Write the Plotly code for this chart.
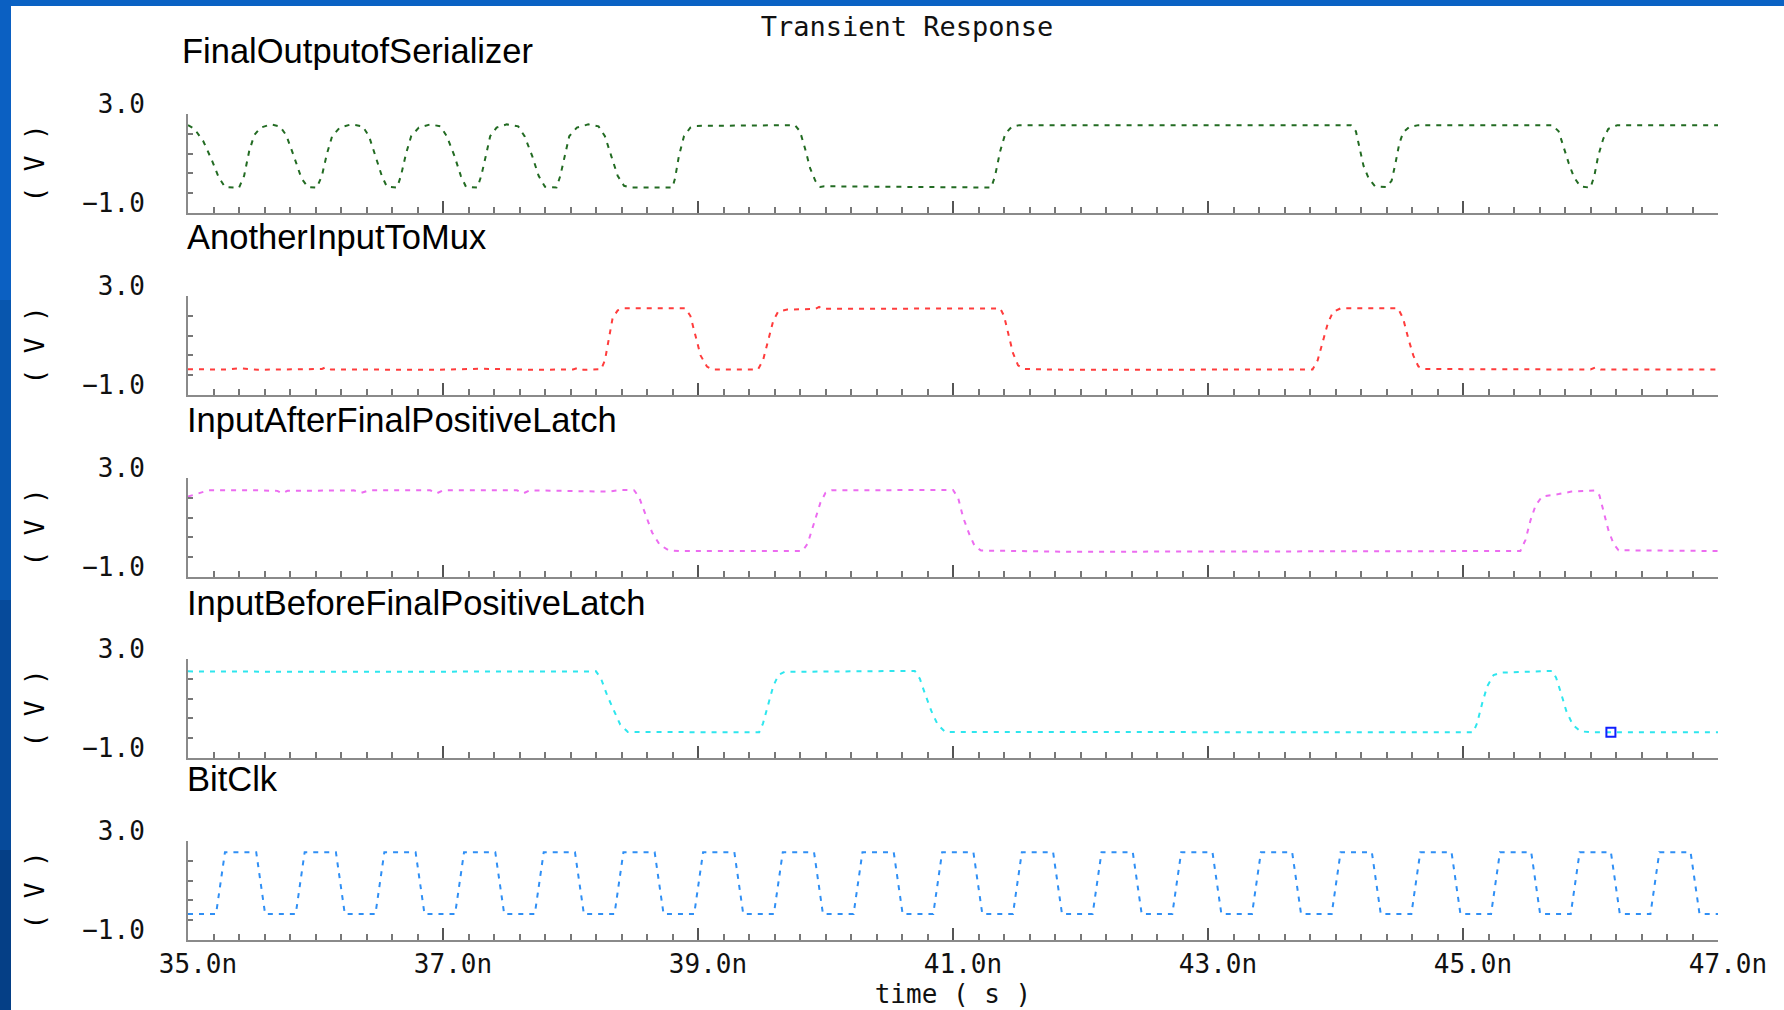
import plotly.graph_objects as go

# ---------------- data (time in ns, voltage in V) ----------------
x_tick_vals = [35, 37, 39, 41, 43, 45, 47]
x_tick_text = ["35.0n", "37.0n", "39.0n", "41.0n", "43.0n", "45.0n", "47.0n"]
y_tick_vals = [-1.0, 3.0]
y_tick_text = ["\u22121.0", "3.0"]
y_minor_vals = [-0.2, 0.6, 1.4, 2.2]

panel_names = ["FinalOutputofSerializer", "AnotherInputToMux",
               "InputAfterFinalPositiveLatch", "InputBeforeFinalPositiveLatch", "BitClk"]
panel_colors = ["#226b22", "#ff3c3c", "#ec6cf0", "#2ee6ee", "#2f8ff5"]

out_t = [35.00, 35.05, 35.12, 35.19, 35.24, 35.29, 35.40, 35.44, 35.48, 35.52, 35.57, 35.65, 35.72,
         35.77, 35.83, 35.89, 35.94, 36.01, 36.05, 36.09, 36.13, 36.19, 36.28, 36.37, 36.42, 36.47,
         36.52, 36.56, 36.64, 36.67, 36.71, 36.75, 36.81, 36.90, 36.98, 37.03, 37.09, 37.14, 37.18,
         37.27, 37.30, 37.34, 37.37, 37.42, 37.50, 37.59, 37.64, 37.70, 37.75, 37.80, 37.89, 37.92,
         37.96, 37.99, 38.05, 38.14, 38.22, 38.27, 38.32, 38.37, 38.42, 38.47, 38.80, 38.82, 38.85,
         38.89, 38.94, 38.99, 39.76, 39.80, 39.84, 39.88, 39.92, 39.96, 39.99, 41.30, 41.33, 41.37,
         41.41, 41.46, 41.52, 44.12, 44.16, 44.19, 44.22, 44.26, 44.31, 44.40, 44.44, 44.47, 44.50,
         44.53, 44.58, 44.65, 45.70, 45.75, 45.79, 45.83, 45.87, 45.92, 46.00, 46.03, 46.06, 46.10,
         46.14, 46.21, 47.00]
out_v = [2.55, 2.40, 1.90, 1.10, 0.45, 0.05, 0.02, 0.50, 1.50, 2.15, 2.45, 2.58, 2.50,
         2.15, 1.30, 0.40, 0.05, 0.02, 0.50, 1.40, 2.10, 2.45, 2.58, 2.50, 2.10, 1.30,
         0.50, 0.06, 0.03, 0.50, 1.40, 2.10, 2.45, 2.58, 2.50, 2.10, 1.30, 0.50, 0.06,
         0.03, 0.50, 1.40, 2.10, 2.45, 2.58, 2.50, 2.10, 1.30, 0.50, 0.06, 0.03, 0.50,
         1.40, 2.10, 2.45, 2.58, 2.50, 2.10, 1.30, 0.50, 0.10, 0.03, 0.03, 0.40, 1.30,
         2.10, 2.45, 2.52, 2.55, 2.30, 1.60, 0.80, 0.30, 0.05, 0.08, 0.03, 0.50, 1.50,
         2.20, 2.48, 2.55, 2.55, 2.30, 1.60, 0.90, 0.40, 0.08, 0.05, 0.30, 1.00, 1.80,
         2.25, 2.48, 2.55, 2.55, 2.30, 1.60, 1.00, 0.45, 0.08, 0.02, 0.50, 1.30, 2.00,
         2.40, 2.55, 2.55]

mux_t = [35.00, 35.30, 35.40, 35.55, 36.05, 36.08, 36.12, 36.60, 36.95, 37.30, 37.70, 38.02, 38.06,
         38.10, 38.24, 38.27, 38.30, 38.33, 38.37, 38.42, 38.90, 38.94, 38.98, 39.02, 39.07, 39.11,
         39.47, 39.51, 39.55, 39.59, 39.63, 39.70, 39.92, 39.95, 39.98, 41.37, 41.40, 41.43, 41.47,
         41.51, 41.56, 41.90, 43.82, 43.86, 43.90, 43.94, 43.98, 44.04, 44.49, 44.53, 44.57, 44.61,
         44.65, 44.70, 46.00, 46.04, 46.08, 47.00]
mux_v = [0.04, 0.03, 0.08, 0.02, 0.05, 0.12, 0.03, 0.04, 0.02, 0.06, 0.02, 0.03, 0.10,
         0.02, 0.04, 0.40, 1.30, 2.10, 2.42, 2.50, 2.50, 2.20, 1.40, 0.60, 0.15, 0.03,
         0.03, 0.40, 1.20, 2.00, 2.38, 2.45, 2.48, 2.56, 2.48, 2.50, 2.20, 1.50, 0.70,
         0.20, 0.05, 0.02, 0.03, 0.40, 1.10, 1.90, 2.35, 2.50, 2.50, 2.10, 1.30, 0.60,
         0.15, 0.05, 0.03, 0.12, 0.03, 0.03]

after_t = [35.00, 35.08, 35.16, 35.55, 35.70, 35.74, 35.78, 36.30, 36.36, 36.42, 36.90, 36.95, 37.00,
           37.58, 37.63, 37.68, 38.05, 38.30, 38.40, 38.50, 38.54, 38.59, 38.64, 38.70, 38.77, 38.85,
           39.82, 39.86, 39.90, 39.93, 39.96, 40.00, 40.05, 41.00, 41.04, 41.08, 41.13, 41.17, 41.22,
           41.90, 44.05, 45.45, 45.49, 45.53, 45.57, 45.62, 45.75, 45.85, 46.03, 46.07, 46.10, 46.14,
           46.18, 46.22, 47.00]
after_v = [2.25, 2.38, 2.50, 2.50, 2.48, 2.38, 2.48, 2.50, 2.40, 2.50, 2.50, 2.38, 2.50,
           2.50, 2.38, 2.50, 2.48, 2.45, 2.52, 2.50, 2.20, 1.50, 0.80, 0.30, 0.08, 0.05,
           0.05, 0.35, 1.00, 1.50, 2.00, 2.40, 2.50, 2.52, 2.20, 1.40, 0.70, 0.25, 0.07,
           0.02, 0.05, 0.05, 0.50, 1.30, 1.90, 2.25, 2.35, 2.45, 2.50, 2.30, 1.70, 0.90,
           0.35, 0.08, 0.05]

before_t = [35.00, 36.05, 38.20, 38.24, 38.29, 38.34, 38.39, 38.45, 39.48, 39.51, 39.55, 39.59, 39.63,
            39.68, 40.70, 40.74, 40.78, 40.83, 40.88, 40.94, 45.08, 45.11, 45.15, 45.19, 45.24, 45.30,
            45.70, 45.73, 45.77, 45.81, 45.86, 45.92, 46.00, 47.00]
before_v = [2.50, 2.48, 2.50, 2.20, 1.50, 0.90, 0.35, 0.05, 0.04, 0.40, 1.20, 1.90, 2.35,
            2.48, 2.52, 2.20, 1.60, 0.90, 0.35, 0.05, 0.04, 0.40, 1.20, 1.90, 2.35, 2.45,
            2.52, 2.25, 1.60, 0.90, 0.35, 0.08, 0.04, 0.04]

marker_t = [46.16]
marker_v = [0.04]

clk_t = [35.00,
         35.22, 35.29, 35.535, 35.605,
         35.845, 35.915, 36.16, 36.23,
         36.47, 36.54, 36.785, 36.855,
         37.095, 37.165, 37.41, 37.48,
         37.72, 37.79, 38.035, 38.105,
         38.345, 38.415, 38.66, 38.73,
         38.97, 39.04, 39.285, 39.355,
         39.595, 39.665, 39.91, 39.98,
         40.22, 40.29, 40.535, 40.605,
         40.845, 40.915, 41.16, 41.23,
         41.47, 41.54, 41.785, 41.855,
         42.095, 42.165, 42.41, 42.48,
         42.72, 42.79, 43.035, 43.105,
         43.345, 43.415, 43.66, 43.73,
         43.97, 44.04, 44.285, 44.355,
         44.595, 44.665, 44.91, 44.98,
         45.22, 45.29, 45.535, 45.605,
         45.845, 45.915, 46.16, 46.23,
         46.47, 46.54, 46.785, 46.855,
         47.00]
clk_v = [0.05,
         0.05, 2.55, 2.55, 0.05,
         0.05, 2.55, 2.55, 0.05,
         0.05, 2.55, 2.55, 0.05,
         0.05, 2.55, 2.55, 0.05,
         0.05, 2.55, 2.55, 0.05,
         0.05, 2.55, 2.55, 0.05,
         0.05, 2.55, 2.55, 0.05,
         0.05, 2.55, 2.55, 0.05,
         0.05, 2.55, 2.55, 0.05,
         0.05, 2.55, 2.55, 0.05,
         0.05, 2.55, 2.55, 0.05,
         0.05, 2.55, 2.55, 0.05,
         0.05, 2.55, 2.55, 0.05,
         0.05, 2.55, 2.55, 0.05,
         0.05, 2.55, 2.55, 0.05,
         0.05, 2.55, 2.55, 0.05,
         0.05, 2.55, 2.55, 0.05,
         0.05, 2.55, 2.55, 0.05,
         0.05, 2.55, 2.55, 0.05,
         0.05]

series = [(out_t, out_v), (mux_t, mux_v), (after_t, after_v), (before_t, before_v), (clk_t, clk_v)]

# ---------------- layout geometry (pixels) ----------------
W, H = 1784, 1010
X_LEFT, X_RIGHT = 188, 1718
TOPS = [114, 296, 478, 659, 841]
PANEL_H = 99
NAME_Y = [51, 237, 420, 603, 779]
NAME_X = [180, 185, 185, 185, 185]

MONO = "DejaVu Sans Mono"
SANS = "Liberation Sans"

fig = go.Figure()
layout = dict(
    width=W, height=H,
    margin=dict(l=0, r=0, t=0, b=0),
    paper_bgcolor="white", plot_bgcolor="white",
    showlegend=False,
    title=dict(text="Transient Response", x=907 / W, xanchor="center",
               y=1 - 27 / H, yanchor="middle", yref="container",
               font=dict(family=MONO, size=27, color="#111")),
)

annotations = []
for i, (name, color, (ts, vs)) in enumerate(zip(panel_names, panel_colors, series)):
    n = i + 1
    xa = "x" if n == 1 else f"x{n}"
    ya = "y" if n == 1 else f"y{n}"
    fig.add_trace(go.Scatter(x=ts, y=vs, mode="lines", xaxis=xa, yaxis=ya,
                             line=dict(color=color, width=2, dash="5px,6px"),
                             hoverinfo="skip"))
    top = TOPS[i]
    bot = top + PANEL_H
    ydom = [1 - bot / H, 1 - top / H]
    last = (n == 5)
    layout["xaxis" if n == 1 else f"xaxis{n}"] = dict(
        domain=[X_LEFT / W, X_RIGHT / W], anchor=ya, range=[35, 47],
        showline=True, linecolor="#8a8a8a", linewidth=2,
        showgrid=False, zeroline=False,
        tickmode="array", tickvals=x_tick_vals, ticktext=x_tick_text,
        ticks="inside", ticklen=12, tickwidth=2, tickcolor="#555",
        showticklabels=last, ticklabelshift=10, ticklabelstandoff=0,
        tickfont=dict(family=MONO, size=26, color="#111"),
        minor=dict(dtick=0.2, tick0=35, ticks="inside", ticklen=6, tickwidth=1.5, tickcolor="#777"),
        title=dict(text="time ( s )" if last else "", standoff=6,
                   font=dict(family=MONO, size=26, color="#111")),
        automargin=False, fixedrange=True,
    )
    layout["yaxis" if n == 1 else f"yaxis{n}"] = dict(
        domain=ydom, anchor=xa, range=[-1, 3],
        showline=True, linecolor="#8a8a8a", linewidth=2,
        showgrid=False, zeroline=False,
        tickmode="array", tickvals=y_tick_vals, ticktext=y_tick_text,
        ticks="inside", ticklen=10, tickwidth=2, tickcolor="#555",
        ticklabelshift=-10, ticklabelstandoff=36,
        tickfont=dict(family=MONO, size=26, color="#111"),
        minor=dict(tickvals=y_minor_vals, ticks="inside", ticklen=5, tickwidth=1.5, tickcolor="#777"),
        automargin=False, fixedrange=True,
    )
    annotations.append(dict(text=name, xref="paper", yref="paper",
                            x=NAME_X[i] / W, xanchor="left",
                            y=1 - NAME_Y[i] / H, yanchor="middle", showarrow=False,
                            font=dict(family=SANS, size=34.5, color="#000")))
    annotations.append(dict(text="( V )", xref="paper", yref="paper",
                            x=34 / W, xanchor="center",
                            y=1 - (top + PANEL_H / 2) / H, yanchor="middle", showarrow=False,
                            textangle=-90, font=dict(family=MONO, size=26, color="#000")))

fig.add_trace(go.Scatter(x=marker_t, y=marker_v, mode="markers", xaxis="x4", yaxis="y4",
                         marker=dict(symbol="square-open", size=9, color="#1020ff",
                                     line=dict(width=2, color="#1020ff")),
                         hoverinfo="skip"))

layout["annotations"] = annotations

# slide background strips (blue frame on top and left)
shapes = [
    dict(type="rect", xref="paper", yref="paper", x0=0, x1=1, y0=1 - 6 / H, y1=1,
         fillcolor="#0a62c4", line=dict(width=0), layer="above"),
]
bands = [(0, 300, "#0b60c2"), (300, 600, "#0856ae"), (600, 850, "#064a9a"), (850, 1010, "#053f86")]
for y0, y1, c in bands:
    shapes.append(dict(type="rect", xref="paper", yref="paper", x0=0, x1=11 / W,
                       y0=1 - y1 / H, y1=1 - y0 / H, fillcolor=c, line=dict(width=0), layer="above"))
layout["shapes"] = shapes

fig.update_layout(**layout)
fig.write_html("out.html")
